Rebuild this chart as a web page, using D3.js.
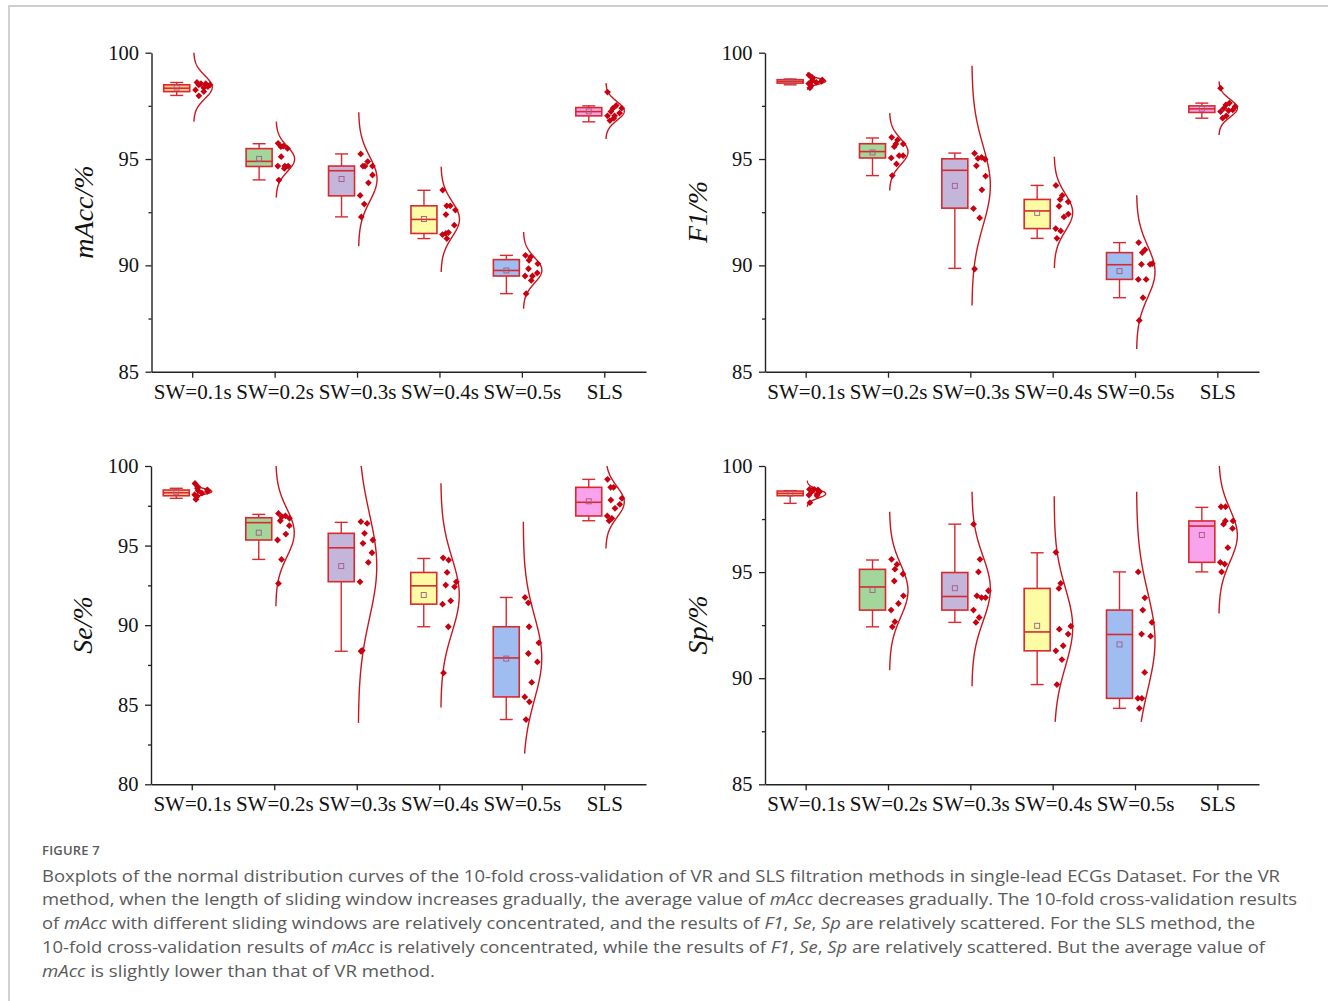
<!DOCTYPE html>
<html>
<head>
<meta charset="utf-8">
<script src="https://cdn.jsdelivr.net/npm/d3@7"></script>
<style>
  body { margin: 0; background: #fff; }
  svg { display: block; }
</style>
</head>
<body>
<svg id="fig" width="1328" height="1001"></svg>
<script>
// ---- categories and tick labels ----
const categories = ["SW=0.1s", "SW=0.2s", "SW=0.3s", "SW=0.4s", "SW=0.5s", "SLS"];
const ticks85 = [85, 90, 95, 100];
const ticks80 = [80, 85, 90, 95, 100];

// ---- box statistics per category: [whisker low, Q1, median, Q3, whisker high, mean] ----
const mAccBox = [
  [97.99, 98.17, 98.33, 98.49, 98.60, 98.36],
  [94.02, 94.65, 94.89, 95.49, 95.72, 95.01],
  [92.28, 93.27, 94.45, 94.67, 95.24, 94.06],
  [91.26, 91.50, 92.16, 92.80, 93.53, 92.18],
  [88.67, 89.50, 89.76, 90.27, 90.47, 89.76],
  [96.75, 97.03, 97.23, 97.42, 97.50, 97.24]
];
const f1Box = [
  [98.49, 98.57, 98.65, 98.73, 98.76, 98.65],
  [94.22, 95.05, 95.35, 95.72, 95.99, 95.31],
  [89.86, 92.69, 94.47, 95.01, 95.28, 93.74],
  [91.27, 91.73, 92.56, 93.10, 93.76, 92.47],
  [88.48, 89.34, 90.03, 90.60, 91.07, 89.73],
  [96.92, 97.19, 97.36, 97.50, 97.63, 97.37]
];
const seBox = [
  [97.97, 98.13, 98.32, 98.49, 98.60, 98.35],
  [94.13, 95.35, 96.44, 96.75, 96.96, 95.81],
  [88.36, 92.73, 94.86, 95.77, 96.46, 93.71],
  [89.90, 91.32, 92.47, 93.31, 94.19, 91.89],
  [84.07, 85.49, 87.94, 89.90, 91.74, 87.90],
  [96.56, 96.86, 97.72, 98.66, 99.16, 97.78]
];
const spBox = [
  [98.24, 98.60, 98.71, 98.82, 98.84, 98.70],
  [92.42, 93.21, 94.30, 95.13, 95.57, 94.16],
  [92.63, 93.21, 93.85, 94.98, 97.26, 94.24],
  [89.70, 91.29, 92.18, 94.23, 95.91, 92.47],
  [88.58, 89.05, 92.06, 93.21, 95.01, 91.59],
  [95.01, 95.46, 97.17, 97.41, 98.05, 96.75]
];

// ---- 10-fold results per category ----
const mAccPoints = [
  [98.60, 98.54, 98.54, 98.49, 98.49, 98.41, 98.35, 98.25, 98.17, 97.97],
  [95.74, 95.61, 95.58, 95.50, 95.11, 94.67, 94.67, 94.67, 94.56, 94.01],
  [95.24, 94.88, 94.67, 94.67, 94.67, 94.25, 93.88, 93.29, 92.88, 92.28],
  [93.54, 92.80, 92.80, 92.60, 92.39, 91.89, 91.54, 91.45, 91.26, 91.50],
  [90.47, 90.39, 90.24, 90.08, 89.84, 89.64, 89.50, 89.50, 89.29, 88.67],
  [98.15, 97.52, 97.39, 97.39, 97.23, 97.16, 97.03, 97.03, 96.92, 96.81]
];
const f1Points = [
  [98.95, 98.85, 98.78, 98.72, 98.68, 98.65, 98.60, 98.55, 98.45, 98.35],
  [96.02, 95.90, 95.71, 95.71, 95.58, 95.16, 95.16, 95.05, 94.77, 94.22],
  [95.27, 95.08, 95.03, 94.99, 94.68, 94.20, 93.55, 92.67, 92.23, 89.83],
  [93.76, 93.29, 93.10, 92.99, 92.78, 92.41, 92.28, 91.73, 91.62, 91.27],
  [91.07, 90.74, 90.60, 90.08, 90.05, 90.05, 89.34, 89.34, 88.48, 87.41],
  [98.33, 97.63, 97.55, 97.47, 97.39, 97.31, 97.28, 97.23, 97.03, 96.92]
];
const sePoints = [
  [98.90, 98.70, 98.60, 98.50, 98.45, 98.40, 98.30, 98.20, 98.10, 97.90],
  [97.02, 96.87, 96.81, 96.71, 96.56, 96.25, 95.72, 95.35, 94.13, 92.62],
  [96.50, 96.39, 95.77, 95.35, 95.14, 94.55, 93.94, 92.72, 88.41, 88.36],
  [94.23, 94.09, 93.31, 92.72, 92.52, 92.41, 91.53, 91.32, 89.90, 87.00],
  [91.74, 91.40, 89.90, 88.89, 88.22, 87.69, 86.40, 85.49, 85.18, 84.07],
  [99.16, 98.66, 98.66, 97.97, 97.86, 97.59, 97.34, 96.86, 96.71, 96.56]
];
const spPoints = [
  [98.90, 98.90, 98.87, 98.87, 98.79, 98.79, 98.68, 98.63, 98.60, 98.27],
  [95.60, 95.36, 95.14, 94.91, 94.58, 93.88, 93.52, 93.21, 92.66, 92.42],
  [97.26, 95.60, 95.01, 94.12, 93.88, 93.80, 93.80, 93.21, 92.86, 92.63],
  [95.93, 94.47, 94.23, 92.45, 92.31, 92.08, 91.53, 91.29, 90.88, 89.70],
  [95.01, 93.79, 93.21, 92.63, 92.08, 91.98, 90.27, 89.05, 89.05, 88.58],
  [98.08, 98.08, 97.41, 97.41, 97.26, 97.06, 96.15, 95.46, 95.38, 95.01]
];

// ---- fitted normal curves: [mean, sd, curve from, curve to] ----
const mAccCurve = [
  [98.38, 0.54, 96.76, 100], [95.00, 0.59, 93.19, 96.76], [94.06, 1.05, 90.90, 97.20],
  [92.17, 0.83, 89.69, 94.64], [89.77, 0.60, 87.96, 91.57], [97.26, 0.44, 95.94, 98.57]
];
const f1Curve = [
  [98.66, 0.14, 98.25, 99.07], [95.34, 0.61, 93.52, 97.16], [93.75, 1.88, 88.11, 99.39],
  [92.49, 0.87, 89.87, 95.11], [89.70, 1.21, 86.07, 93.30], [97.39, 0.42, 96.13, 98.65]
];
const seCurve = [
  [98.40, 0.18, 97.86, 98.95], [95.80, 1.50, 91.19, 100], [93.71, 3.28, 83.86, 100],
  [91.88, 2.35, 84.82, 98.91], [87.95, 2.63, 81.93, 96.50], [97.74, 0.97, 94.82, 100]
];
const spCurve = [
  [98.69, 0.20, 98.08, 99.31], [94.12, 1.24, 90.38, 97.84], [94.21, 1.53, 89.62, 98.79],
  [92.40, 1.85, 87.94, 98.58], [91.75, 2.30, 87.94, 98.79], [96.73, 1.23, 93.05, 100]
];

// ---- styling ----
const fills = ["#fcca91", "#a3d69b", "#c3b6da", "#fdfca5", "#9fbdf0", "#f8a3ec"];
const boxStroke = "#d8292e";
const curveStroke = "#c8161e";
const pointFill = "#c80010";
const meanStroke = "#a45a82";
const serif = "'Liberation Serif', 'Times New Roman', serif";
const sans = "'Open Sans', 'Noto Sans', sans-serif";

const svg = d3.select("#fig");

// page frame
svg.append("path")
  .attr("d", "M9,1001V6H1328")
  .attr("fill", "none").attr("stroke", "#cecece").attr("stroke-width", 1.8);

const panels = [
  { name: "mAcc", box: mAccBox, pts: mAccPoints, curve: mAccCurve, ticks: ticks85,
    x0: 151.5, x1: 646, y0: 52.7, y1: 371.7, lx: 93, ly: 212 },
  { name: "F1", box: f1Box, pts: f1Points, curve: f1Curve, ticks: ticks85,
    x0: 765, x1: 1259, y0: 52.7, y1: 371.7, lx: 707, ly: 212 },
  { name: "Se", box: seBox, pts: sePoints, curve: seCurve, ticks: ticks80,
    x0: 151, x1: 646, y0: 466, y1: 784.3, lx: 92, ly: 625 },
  { name: "Sp", box: spBox, pts: spPoints, curve: spCurve, ticks: ticks85,
    x0: 765, x1: 1259, y0: 466, y1: 784.3, lx: 707, ly: 625 }
];

// deterministic spread of the points inside the curve
const spread = [0.15, 0.7, 0.4, 0.95, 0.25, 0.8, 0.55, 0.05, 0.6, 0.35];
const peakWidth = 18.5;
const diamond = "M0,-3.4L3.4,0L0,3.4L-3.4,0Z";

panels.forEach(p => {
  const lo = p.ticks[0], hi = p.ticks[p.ticks.length - 1];
  const y = d3.scaleLinear().domain([lo, hi]).range([p.y1, p.y0]);
  const x = d3.scaleBand().domain(categories).range([p.x0, p.x1]);
  const cx = c => x(c) + x.bandwidth() / 2;
  const g = svg.append("g");

  // minor ticks
  const minor = d3.range(lo + 2.5, hi, 5);
  g.append("g").attr("transform", `translate(${p.x0},0)`)
    .call(d3.axisLeft(y).tickValues(minor).tickSize(3).tickFormat(""))
    .call(a => a.select(".domain").remove())
    .call(a => a.selectAll("line").attr("stroke", "#222").attr("stroke-width", 1.3));

  // y axis
  g.append("g").attr("transform", `translate(${p.x0},0)`)
    .call(d3.axisLeft(y).tickValues(p.ticks).tickSize(6).tickPadding(6.5).tickSizeOuter(0))
    .call(a => a.select(".domain").attr("stroke", "#222").attr("stroke-width", 1.4))
    .call(a => a.selectAll("line").attr("stroke", "#222").attr("stroke-width", 1.3))
    .call(a => a.selectAll("text").attr("font-family", serif).attr("font-size", 20.5).attr("fill", "#111"));

  // x axis
  g.append("g").attr("transform", `translate(0,${p.y1})`)
    .call(d3.axisBottom(x).tickSize(6).tickPadding(6).tickSizeOuter(0))
    .call(a => a.select(".domain").attr("stroke", "#222").attr("stroke-width", 1.4))
    .call(a => a.selectAll("line").attr("stroke", "#222").attr("stroke-width", 1.3))
    .call(a => a.selectAll("text").attr("font-family", serif).attr("font-size", 21).attr("fill", "#111"));

  // y axis title
  g.append("text")
    .attr("transform", `translate(${p.lx},${p.ly}) rotate(-90)`)
    .attr("text-anchor", "middle")
    .attr("font-family", serif).attr("font-size", 28).attr("font-style", "italic").attr("fill", "#111")
    .text(p.name + "/%");

  categories.forEach((c, i) => {
    const [wLo, q1, med, q3, wHi, mean] = p.box[i];
    const bc = cx(c) - 16, bw = 26, cap = 13;
    const bg = g.append("g");

    // whiskers
    bg.append("line").attr("x1", bc).attr("x2", bc).attr("y1", y(wHi)).attr("y2", y(wLo))
      .attr("stroke", boxStroke).attr("stroke-width", 1.4);
    [wLo, wHi].forEach(v => bg.append("line")
      .attr("x1", bc - cap / 2).attr("x2", bc + cap / 2).attr("y1", y(v)).attr("y2", y(v))
      .attr("stroke", boxStroke).attr("stroke-width", 1.4));

    // box
    bg.append("rect").attr("x", bc - bw / 2).attr("width", bw)
      .attr("y", y(q3)).attr("height", Math.max(y(q1) - y(q3), 1))
      .attr("fill", fills[i]).attr("stroke", boxStroke).attr("stroke-width", 1.6);
    bg.append("line").attr("x1", bc - bw / 2).attr("x2", bc + bw / 2).attr("y1", y(med)).attr("y2", y(med))
      .attr("stroke", boxStroke).attr("stroke-width", 1.6);

    // mean marker
    bg.append("rect").attr("x", bc - 2.5).attr("y", y(mean) - 2.5).attr("width", 5).attr("height", 5)
      .attr("fill", "none").attr("stroke", meanStroke).attr("stroke-width", 0.9);

    // normal curve
    const [mu, sd, from, to] = p.curve[i];
    const base = cx(c) + 1;
    const dens = v => peakWidth * Math.exp(-((v - mu) ** 2) / (2 * sd * sd));
    const a = Math.max(from, lo), b = Math.min(to, hi);
    const vals = d3.range(0, 121).map(k => a + (b - a) * k / 120);
    bg.append("path")
      .attr("d", d3.line().x(v => base + dens(v)).y(v => y(v))(vals))
      .attr("fill", "none").attr("stroke", curveStroke).attr("stroke-width", 1.4);

    // data points
    p.pts[i].forEach((v, k) => {
      const w = Math.max(dens(v) - 2, 5);
      bg.append("path").attr("d", diamond)
        .attr("transform", `translate(${base + 1 + spread[k] * w},${y(v)})`)
        .attr("fill", pointFill);
    });
  });
});

// ---- caption ----
const cap = svg.append("g").attr("font-family", sans).attr("fill", "#5a5a5a");
cap.append("text").attr("x", 42).attr("y", 855).attr("font-size", 13).attr("font-weight", 600)
  .attr("letter-spacing", 0.2).text("FIGURE 7");

const lines = [
  { w: 1238, parts: [["Boxplots of the normal distribution curves of the 10-fold cross-validation of VR and SLS filtration methods in single-lead ECGs Dataset. For the VR", false]] },
  { w: 1255, parts: [["method, when the length of sliding window increases gradually, the average value of ", false], ["mAcc", true], [" decreases gradually. The 10-fold cross-validation results", false]] },
  { w: 1213, parts: [["of ", false], ["mAcc", true], [" with different sliding windows are relatively concentrated, and the results of ", false], ["F1", true], [", ", false], ["Se", true], [", ", false], ["Sp", true], [" are relatively scattered. For the SLS method, the", false]] },
  { w: 1223, parts: [["10-fold cross-validation results of ", false], ["mAcc", true], [" is relatively concentrated, while the results of ", false], ["F1", true], [", ", false], ["Se", true], [", ", false], ["Sp", true], [" are relatively scattered. But the average value of", false]] },
  { w: 393, parts: [["mAcc", true], [" is slightly lower than that of VR method.", false]] }
];
lines.forEach((ln, i) => {
  const t = cap.append("text").attr("x", 42).attr("y", 881.5 + i * 23.75).attr("font-size", 16.5)
    .attr("textLength", ln.w).attr("lengthAdjust", "spacingAndGlyphs")
    .attr("xml:space", "preserve").style("white-space", "pre");
  ln.parts.forEach(([s, it]) => t.append("tspan").attr("font-style", it ? "italic" : "normal").text(s));
});
</script>
</body>
</html>
